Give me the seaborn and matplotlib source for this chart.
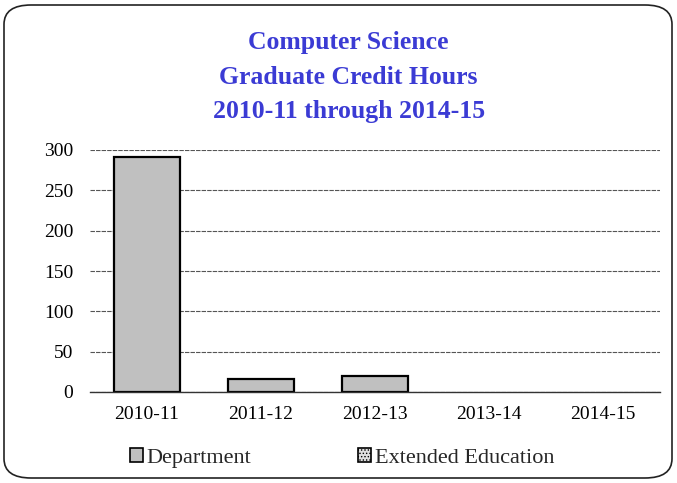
import numpy as np
import pandas as pd
import seaborn as sns
import matplotlib.pyplot as plt
from matplotlib.patches import FancyBboxPatch, Patch

# Werte
jahre = ['2010-11', '2011-12', '2012-13', '2013-14', '2014-15']
department = [291, 16, 20, 0, 0]
extended_education = [0, 0, 0, 0, 0]

titel = 'Computer Science\nGraduate Credit Hours\n2010-11 through 2014-15'
titel_farbe = '#3b3bd4'

sns.set_theme(style='white')
plt.rcParams['font.family'] = ['Liberation Serif', 'DejaVu Serif']
plt.rcParams['hatch.linewidth'] = 0.6

df = pd.DataFrame({'Jahr': jahre, 'Department': department,
                   'Extended Education': extended_education})
# Nullwerte nicht als Strich zeichnen
df_plot = df.replace(0, np.nan)

fig = plt.figure(figsize=(6.77, 4.83), dpi=100)
ax = fig.add_axes([90 / 677, 1 - 392 / 483, 570 / 677, 242 / 483])

# Rahmen mit abgerundeten Ecken
rahmen = FancyBboxPatch((4 / 677, 5 / 483), 668 / 677, 473 / 483,
                        boxstyle='round,pad=0,rounding_size=0.04',
                        transform=fig.transFigure, facecolor='none',
                        edgecolor='#222222', linewidth=1.2, clip_on=False)
fig.patches.append(rahmen)

sns.barplot(data=df_plot, x='Jahr', y='Department', color='#c0c0c0',
            saturation=1, edgecolor='black', linewidth=1.6, width=0.58,
            order=jahre, ax=ax)

ax.set_ylim(0, 300)
ax.set_yticks(range(0, 301, 50))
ax.set_xlim(-0.5, 4.5)
ax.yaxis.grid(True, color='#555555', linewidth=0.8, linestyle=(0, (4, 1)))
ax.set_axisbelow(True)
for s in ['top', 'right', 'left']:
    ax.spines[s].set_visible(False)
ax.spines['bottom'].set_color('#333333')
ax.spines['bottom'].set_linewidth(1.0)
ax.set_xlabel('')
ax.set_ylabel('')
ax.tick_params(axis='both', length=0, labelsize=14, colors='black')
ax.tick_params(axis='x', pad=10)
ax.tick_params(axis='y', pad=12)

fig.text(0.515, 1 - 77 / 483, titel, ha='center', va='center',
         fontsize=18.5, fontweight='bold', color=titel_farbe, linespacing=1.65)

griffe = [Patch(facecolor='#c0c0c0', edgecolor='black', linewidth=1.2),
          Patch(facecolor='#e0e0e0', edgecolor='black', linewidth=1.2, hatch='.....')]
fig.legend(griffe, ['Department', 'Extended Education'], loc='center',
           bbox_to_anchor=(0.505, 1 - 458 / 483), ncol=2, frameon=False,
           fontsize=16, handlelength=0.6, handleheight=0.6,
           handletextpad=0.15, columnspacing=4.8)

plt.savefig('out.png', dpi=100)
plt.close()
